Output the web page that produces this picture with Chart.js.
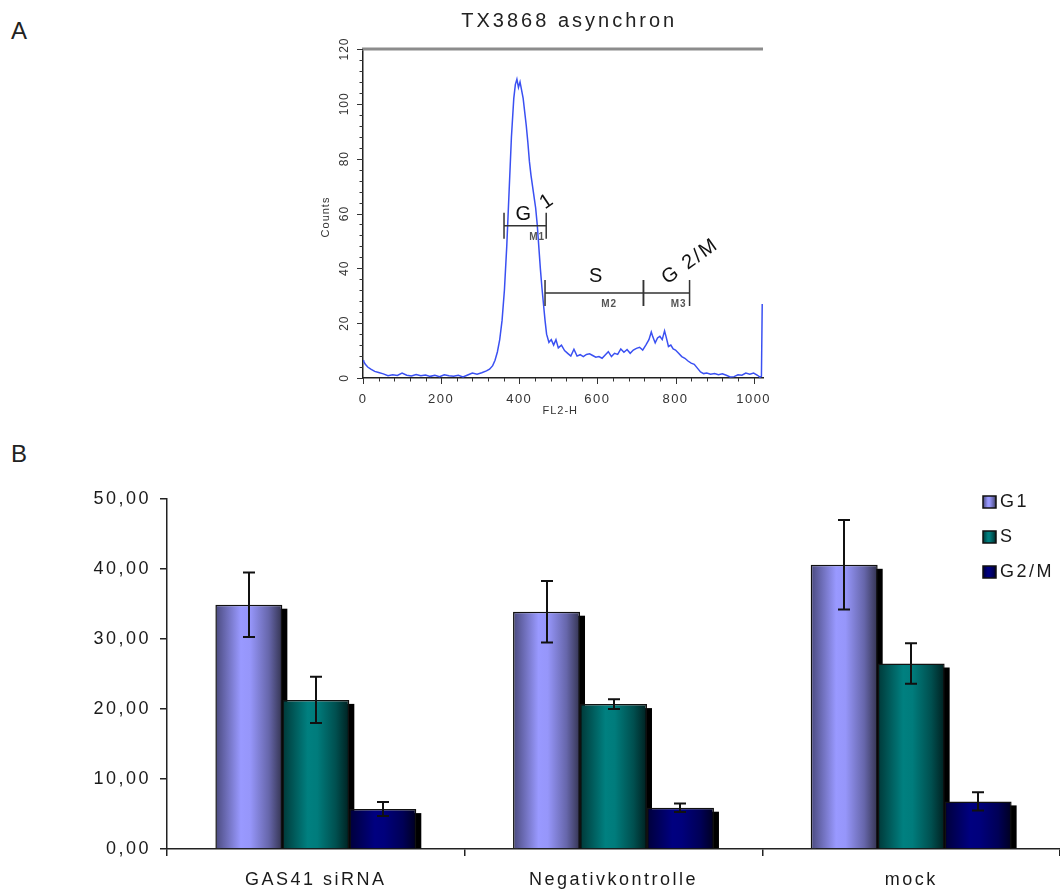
<!DOCTYPE html>
<html>
<head>
<meta charset="utf-8">
<script src="https://cdn.jsdelivr.net/npm/chart.js@4.4.1/dist/chart.umd.min.js"></script>
<style>
  body { margin: 0; background: #fff; width: 1060px; height: 893px; position: relative; overflow: hidden; font-family: "Liberation Sans", Arial, sans-serif; }
  .panel { position: absolute; font-size: 24px; color: #222; }
  #wrapA { position: absolute; left: 280px; top: 0; width: 520px; height: 430px; }
  #wrapB { position: absolute; left: 0; top: 470px; width: 1060px; height: 423px; }
</style>
</head>
<body>
<div class="panel" style="left:11px; top:17px;">A</div>
<div class="panel" style="left:11px; top:440px;">B</div>
<div id="wrapA"><canvas id="histo"></canvas></div>
<div id="wrapB"><canvas id="phases"></canvas></div>
<script>
// ---- panel A: DNA histogram ----
const channels = [0, 2, 6, 12, 20, 30, 40, 52, 64, 76, 88, 100, 112, 124, 136, 148, 160, 172, 184, 196,
  208, 220, 232, 244, 256, 268, 280, 292, 304, 316, 324, 332, 338, 344, 350, 356, 362, 368, 374, 380,
  386, 390, 394, 398, 402, 406, 410, 414, 418, 422, 426, 430, 434, 438, 442, 446, 450, 454, 458, 462,
  466, 470, 476, 482, 488, 494, 500, 508, 516, 524, 532, 540, 548, 556, 564, 572, 580, 588, 596, 604,
  612, 620, 628, 636, 644, 652, 660, 668, 676, 684, 692, 700, 708, 716, 724, 732, 738, 742, 748, 754,
  760, 766, 772, 776, 782, 788, 794, 800, 808, 816, 824, 832, 840, 848, 856, 864, 872, 880, 890, 900,
  910, 920, 930, 940, 950, 960, 970, 980, 990, 1000, 1010, 1016, 1020, 1022, 1023];
const counts = [6.5, 6, 5, 4, 3.2, 2.4, 2, 1.5, 0.8, 1.2, 0.9, 1.8, 1, 0.7, 1.3, 0.8, 1.1, 0.6, 1, 0.5,
  1.2, 0.8, 0.6, 1, 0.4, 1.1, 1.8, 1.4, 1.9, 2.6, 3.2, 4.5, 6.5, 9.5, 14, 21, 32, 48, 68, 88,
  102, 107, 109, 106, 108, 105, 102, 97, 92, 86, 79, 74, 70, 66, 62, 56, 48, 40, 33, 27,
  21, 16, 13, 14, 12, 14, 11, 12, 10, 9, 8, 10.5, 8, 8.5, 7.8, 8.6, 8.8, 8.2, 7.6, 7.8,
  7.2, 8.4, 9.6, 7.8, 9, 8.6, 10.6, 9.4, 10.4, 9, 10.2, 10.8, 11.2, 10.2, 12, 14, 16.8, 15, 12.8, 14.6,
  15.2, 14, 17.2, 15, 11.5, 12, 10.6, 10.2, 9, 7.8, 7.2, 6.2, 5.4, 5, 3.6, 2.2, 1.6, 1.8, 1.4, 1.6,
  1.2, 1.5, 1, 0.4, 0.5, 1.2, 1, 1.8, 1.4, 1.8, 1, 0.3, 0.6, 27, 27];
const channelTicks = [0, 200, 400, 600, 800, 1000];
const gateNames = ["M1", "M2", "M3"];
const gateStart = [361, 466, 718];
const gateEnd = [469, 718, 836];
const gateLevel = [55.5, 31, 31];

// ---- panel B: cell cycle phases ----
const groups = ["GAS41 siRNA", "Negativkontrolle", "mock"];
const phases = ["G1", "S", "G2/M"];
const g1Values = [34.9, 33.9, 40.6];
const g1Errors = [4.6, 4.4, 6.4];
const sValues = [21.3, 20.7, 26.5];
const sErrors = [3.3, 0.7, 2.9];
const g2mValues = [5.7, 5.9, 6.8];
const g2mErrors = [1.0, 0.6, 1.3];

const FONT = "Liberation Sans";

// canvas letter spacing (the original text is set very wide)
const spacing = {
  id: "spacing",
  beforeUpdate(chart, args, opts) { chart.ctx.letterSpacing = opts.value; },
  beforeDraw(chart, args, opts) { chart.ctx.letterSpacing = opts.value; },
};

// axes decoration, title and gates for the histogram
const histoDecor = {
  id: "histoDecor",
  afterDraw(chart) {
    const { ctx, chartArea: { top, bottom, left, right }, scales: { x, y } } = chart;
    ctx.save();
    // grey frame line on top
    ctx.strokeStyle = "#8c8c8c";
    ctx.lineWidth = 3;
    ctx.beginPath();
    ctx.moveTo(left - 1, top);
    ctx.lineTo(right, top);
    ctx.stroke();

    // tick marks
    ctx.strokeStyle = "#333";
    ctx.lineWidth = 1;
    for (let v = 0; v <= 120; v += 4) {
      const py = Math.round(y.getPixelForValue(v)) + 0.5;
      const len = v % 20 === 0 ? 6 : 3.5;
      ctx.beginPath();
      ctx.moveTo(left - len, py);
      ctx.lineTo(left, py);
      ctx.stroke();
    }
    for (let c = 0; c <= 1000; c += 40) {
      const px = Math.round(x.getPixelForValue(c)) + 0.5;
      const len = c % 200 === 0 ? 6 : 3.5;
      ctx.beginPath();
      ctx.moveTo(px, bottom);
      ctx.lineTo(px, bottom + len);
      ctx.stroke();
    }

    // rotated y labels
    ctx.fillStyle = "#333";
    ctx.font = `12px ${FONT}`;
    ctx.letterSpacing = "1px";
    ctx.textAlign = "center";
    ctx.textBaseline = "middle";
    for (let v = 0; v <= 120; v += 20) {
      ctx.save();
      ctx.translate(left - 18, y.getPixelForValue(v));
      ctx.rotate(-Math.PI / 2);
      ctx.fillText(String(v), 0, 0);
      ctx.restore();
    }
    ctx.save();
    ctx.translate(left - 37, 217);
    ctx.rotate(-Math.PI / 2);
    ctx.font = `11px ${FONT}`;
    ctx.fillText("Counts", 0, 0);
    ctx.restore();
    ctx.font = `11px ${FONT}`;
    ctx.fillText("FL2-H", x.getPixelForValue(505), bottom + 33);

    // title
    ctx.fillStyle = "#222";
    ctx.font = `20px ${FONT}`;
    ctx.letterSpacing = "3px";
    ctx.textBaseline = "alphabetic";
    ctx.fillText("TX3868 asynchron", x.getPixelForValue(528), 27);

    // gates
    ctx.strokeStyle = "#333";
    ctx.lineWidth = 1.5;
    gateNames.forEach((name, i) => {
      const gy = y.getPixelForValue(gateLevel[i]);
      const x0 = x.getPixelForValue(gateStart[i]);
      const x1 = x.getPixelForValue(gateEnd[i]);
      ctx.beginPath();
      ctx.moveTo(x0, gy);
      ctx.lineTo(x1, gy);
      ctx.moveTo(x0, gy - 13);
      ctx.lineTo(x0, gy + 13);
      ctx.moveTo(x1, gy - 13);
      ctx.lineTo(x1, gy + 13);
      ctx.stroke();
      ctx.fillStyle = "#555";
      ctx.font = `bold 10px ${FONT}`;
      ctx.letterSpacing = "1px";
      ctx.textAlign = "center";
      ctx.textBaseline = "middle";
      ctx.fillText(name, x.getPixelForValue(i === 0 ? 446 : i === 1 ? 630 : 808), gy + 11);
    });

    // phase names
    ctx.fillStyle = "#111";
    ctx.font = `20px ${FONT}`;
    ctx.letterSpacing = "2px";
    ctx.textAlign = "center";
    ctx.textBaseline = "middle";
    ctx.fillText("G", x.getPixelForValue(413), y.getPixelForValue(59.5));
    ctx.fillText("S", x.getPixelForValue(598), y.getPixelForValue(37));
    ctx.save();
    ctx.translate(x.getPixelForValue(472), y.getPixelForValue(64.5));
    ctx.rotate(-0.6);
    ctx.fillText("1", 0, 0);
    ctx.restore();
    ctx.save();
    ctx.translate(x.getPixelForValue(838), y.getPixelForValue(42.5));
    ctx.rotate(-0.62);
    ctx.fillText("G 2/M", 0, 0);
    ctx.restore();
    ctx.restore();
  },
};

new Chart(document.getElementById("histo"), {
  type: "line",
  data: {
    datasets: [{
      data: channels.map((c, i) => ({ x: c, y: counts[i] })),
      borderColor: "#3a50f2",
      borderWidth: 1.5,
      pointRadius: 0,
      tension: 0,
      fill: false,
    }],
  },
  options: {
    responsive: true,
    maintainAspectRatio: false,
    animation: false,
    events: [],
    layout: { padding: { top: 49, right: 37, left: 0, bottom: 0 } },
    scales: {
      x: {
        type: "linear",
        min: 0,
        max: 1024,
        afterBuildTicks: (s) => { s.ticks = channelTicks.map((v) => ({ value: v })); },
        afterFit: (s) => { s.height = 52; },
        grid: { display: false, drawTicks: false },
        border: { color: "#222", width: 1.5 },
        ticks: {
          color: "#333",
          padding: 14,
          font: { family: FONT, size: 13 },
          callback: (v) => String(v),
        },
      },
      y: {
        min: 0,
        max: 120,
        afterFit: (s) => { s.width = 83; },
        grid: { display: false, drawTicks: false },
        border: { color: "#222", width: 1.5 },
        ticks: { display: false, stepSize: 20 },
      },
    },
    plugins: {
      legend: { display: false },
      tooltip: { enabled: false },
      spacing: { value: "1.5px" },
    },
  },
  plugins: [spacing, histoDecor],
});

// ---- panel B plugins ----
const shades = [
  [[0, "#4a4a7e"], [0.38, "#9999ff"], [0.52, "#9696fa"], [0.8, "#6666aa"], [1, "#33334f"]],
  [[0, "#003838"], [0.38, "#008080"], [0.52, "#007c7c"], [0.8, "#004f4f"], [1, "#002020"]],
  [[0, "#00003a"], [0.38, "#000080"], [0.52, "#00007c"], [0.8, "#000056"], [1, "#000020"]],
];
const baseColors = ["#9999ff", "#008080", "#000080"];

function makeGradient(ctx, x0, x1, i) {
  const g = ctx.createLinearGradient(x0, 0, x1, 0);
  shades[i].forEach(([p, c]) => g.addColorStop(p, c));
  return g;
}

const barLook = {
  id: "barLook",
  beforeDatasetsDraw(chart) {
    const { ctx } = chart;
    ctx.save();
    ctx.fillStyle = "#000";
    chart.data.datasets.forEach((ds, i) => {
      chart.getDatasetMeta(i).data.forEach((bar) => {
        const { x, y, base, width } = bar.getProps(["x", "y", "base", "width"], true);
        ctx.fillRect(x - width / 2 + 5, y + 4, width, base - y - 4);
      });
    });
    chart.data.datasets.forEach((ds, i) => {
      chart.getDatasetMeta(i).data.forEach((bar) => {
        const { x, width } = bar.getProps(["x", "width"], true);
        bar.options.backgroundColor = makeGradient(ctx, x - width / 2, x + width / 2, i);
      });
    });
    ctx.restore();
  },
  afterDatasetsDraw(chart) {
    const { ctx, scales: { y } } = chart;
    ctx.save();
    ctx.strokeStyle = "#111";
    ctx.lineWidth = 2;
    chart.data.datasets.forEach((ds, i) => {
      chart.getDatasetMeta(i).data.forEach((bar, j) => {
        const v = ds.data[j];
        const e = ds.errors[j];
        const px = Math.round(bar.x);
        const t = y.getPixelForValue(v + e);
        const b = y.getPixelForValue(v - e);
        ctx.beginPath();
        ctx.moveTo(px, t);
        ctx.lineTo(px, b);
        ctx.moveTo(px - 6, t);
        ctx.lineTo(px + 6, t);
        ctx.moveTo(px - 6, b);
        ctx.lineTo(px + 6, b);
        ctx.stroke();
      });
    });
    ctx.restore();
  },
  afterDraw(chart) {
    const { ctx } = chart;
    ctx.save();
    ctx.font = `18px ${FONT}`;
    ctx.letterSpacing = "2.5px";
    ctx.textAlign = "left";
    ctx.textBaseline = "middle";
    chart.data.datasets.forEach((ds, i) => {
      const cy = 32 + i * 35;
      ctx.fillStyle = makeGradient(ctx, 983, 996, i);
      ctx.fillRect(983, cy - 6, 13, 12);
      ctx.strokeStyle = "#111";
      ctx.lineWidth = 1.5;
      ctx.strokeRect(983, cy - 6, 13, 12);
      ctx.fillStyle = "#1a1a1a";
      ctx.fillText(ds.label, 1000, cy);
    });
    ctx.restore();
  },
};

new Chart(document.getElementById("phases"), {
  type: "bar",
  data: {
    labels: groups,
    datasets: [
      { label: phases[0], data: g1Values, errors: g1Errors },
      { label: phases[1], data: sValues, errors: sErrors },
      { label: phases[2], data: g2mValues, errors: g2mErrors },
    ].map((ds, i) => ({
      ...ds,
      backgroundColor: () => baseColors[i],
      borderColor: "#111",
      borderWidth: 1.5,
      barPercentage: 1,
      categoryPercentage: 0.675,
    })),
  },
  options: {
    responsive: true,
    maintainAspectRatio: false,
    animation: false,
    events: [],
    layout: { padding: { top: 29, right: 0, left: 0, bottom: 0 } },
    scales: {
      x: {
        afterFit: (s) => { s.height = 44; },
        grid: { offset: true, drawOnChartArea: false, tickLength: 7, color: "#222", lineWidth: 1.5 },
        border: { color: "#222", width: 1.5 },
        ticks: { color: "#1a1a1a", padding: 13, font: { family: FONT, size: 18 } },
      },
      y: {
        min: 0,
        max: 50,
        afterFit: (s) => { s.width = 167; },
        grid: { drawOnChartArea: false, tickLength: 7, color: "#222", lineWidth: 1.5 },
        border: { color: "#222", width: 1.5 },
        ticks: {
          stepSize: 10,
          color: "#1a1a1a",
          padding: 9,
          font: { family: FONT, size: 18 },
          callback: (v) => v.toFixed(2).replace(".", ","),
        },
      },
    },
    plugins: {
      legend: { display: false },
      tooltip: { enabled: false },
      spacing: { value: "2.5px" },
    },
  },
  plugins: [spacing, barLook],
});
</script>
</body>
</html>
